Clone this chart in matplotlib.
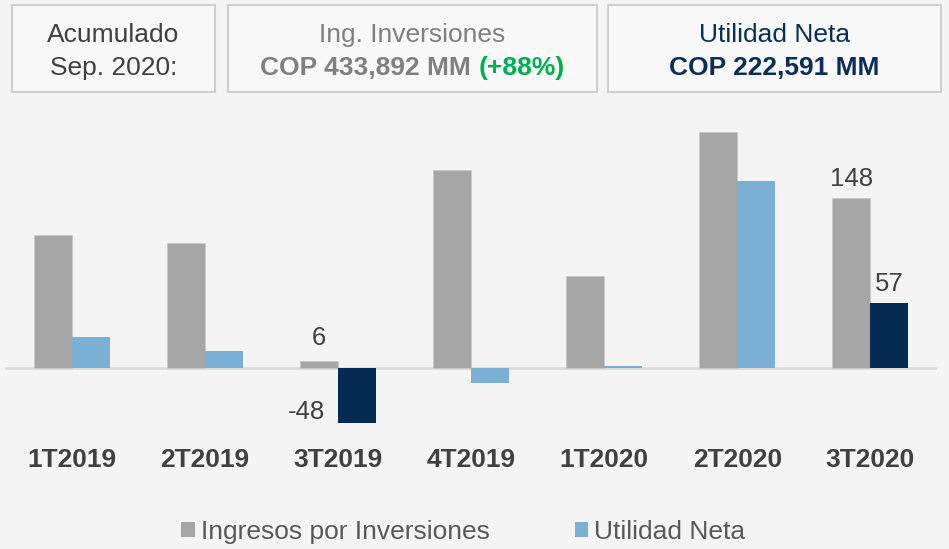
import numpy as np
import matplotlib.pyplot as plt
from matplotlib.patches import Rectangle, Patch

plt.rcParams['font.family'] = ['Liberation Sans', 'DejaVu Sans']

# data (COP miles de millones)
trimestres = ['1T2019', '2T2019', '3T2019', '4T2019', '1T2020', '2T2020', '3T2020']
ingresos = [116, 109, 6, 173, 80, 206, 148]
utilidad = [27, 15, -48, -13, 2, 163, 57]
destacados = [2, 6]  # trimestres con barra oscura

GRIS = '#a6a6a6'
AZUL = '#7bafd4'
NAVY = '#062b52'
TXT = '#404040'

W, H = 949, 549
fig = plt.figure(figsize=(W / 100, H / 100), dpi=100)
fig.patch.set_facecolor('#f4f4f4')

ax = fig.add_axes([5 / W, 1 - 440 / H, 932 / W, 330 / H])
ax.set_facecolor('none')

x = np.arange(len(trimestres))
bw = 0.285
col_ut = [NAVY if i in destacados else AZUL for i in range(len(x))]
ax.bar(x - bw / 2, ingresos, bw, color=GRIS, edgecolor='#c8c8c8', linewidth=0.6, zorder=2)
ax.bar(x + bw / 2, utilidad, bw, color=col_ut, linewidth=0, zorder=2)
ax.axhline(0, color='#d9d9d9', linewidth=1.8, zorder=1)

ax.set_xlim(-0.5, 6.5)
ax.set_ylim(-62.8, 225)
ax.set_yticks([])
ax.set_xticks(x)
ax.set_xticklabels(trimestres, fontsize=19, fontweight='bold', color=TXT)
ax.tick_params(axis='x', length=0, pad=6)
for s in ax.spines.values():
    s.set_visible(False)

# etiquetas de datos
lbl = dict(fontsize=18.5, color=TXT, ha='center')
ax.annotate(str(ingresos[2]), (x[2] - bw / 2, ingresos[2]), xytext=(0, 8),
            textcoords='offset points', va='bottom', **lbl)
ax.annotate(str(utilidad[2]), (x[2] + bw / 2, utilidad[2]), xytext=(-36, -1),
            textcoords='offset points', va='bottom', **lbl)
ax.annotate(str(ingresos[6]), (x[6] - bw / 2, ingresos[6]), xytext=(0, 5),
            textcoords='offset points', va='bottom', **lbl)
ax.annotate(str(utilidad[6]), (x[6] + bw / 2, utilidad[6]), xytext=(0, 5),
            textcoords='offset points', va='bottom', **lbl)

# recuadros de encabezado
def caja(x0, x1, y0=5, y1=92):
    fig.patches.append(Rectangle((x0 / W, 1 - y1 / H), (x1 - x0) / W, (y1 - y0) / H,
                                 transform=fig.transFigure, facecolor='#f8f8f8',
                                 edgecolor='#cfcfcf', linewidth=1.5, zorder=0))

caja(12, 215)
caja(228, 597)
caja(608, 941)

fs = 19
fig.text(113.5 / W, 1 - 35 / H, 'Acumulado', ha='center', va='center', fontsize=fs, color=TXT)
fig.text(113.5 / W, 1 - 68 / H, 'Sep. 2020:', ha='center', va='center', fontsize=fs, color=TXT)
fig.text(412.5 / W, 1 - 35 / H, 'Ing. Inversiones', ha='center', va='center', fontsize=fs, color='#808080')
fig.text(774.5 / W, 1 - 35 / H, 'Utilidad Neta', ha='center', va='center', fontsize=fs, color='#0a2e5c')
fig.text(774.5 / W, 1 - 68 / H, 'COP 222,591 MM', ha='center', va='center', fontsize=fs,
         fontweight='bold', color='#0a2e5c')

# linea con dos colores
r = fig.canvas.get_renderer()
t1 = fig.text(0, 1 - 68 / H, 'COP 433,892 MM ', ha='left', va='center', fontsize=fs,
              fontweight='bold', color='#808080')
t2 = fig.text(0, 1 - 68 / H, '(+88%)', ha='left', va='center', fontsize=fs,
              fontweight='bold', color='#00b050')
w1 = t1.get_window_extent(r).width
w2 = t2.get_window_extent(r).width
x0 = 412.5 - (w1 + w2) / 2
t1.set_x(x0 / W)
t2.set_x((x0 + w1) / W)

# leyenda
handles = [Patch(facecolor=GRIS, label='Ingresos por Inversiones'),
           Patch(facecolor=AZUL, label='Utilidad Neta')]
leg = fig.legend(handles=handles, loc='center', bbox_to_anchor=(463.5 / W, 1 - 532 / H),
                 ncol=2, frameon=False, fontsize=fs, handlelength=0.5, handleheight=0.5,
                 handletextpad=0.25, columnspacing=3.2)
for t in leg.get_texts():
    t.set_color('#595959')

fig.savefig('out.png', dpi=100, facecolor=fig.get_facecolor())
